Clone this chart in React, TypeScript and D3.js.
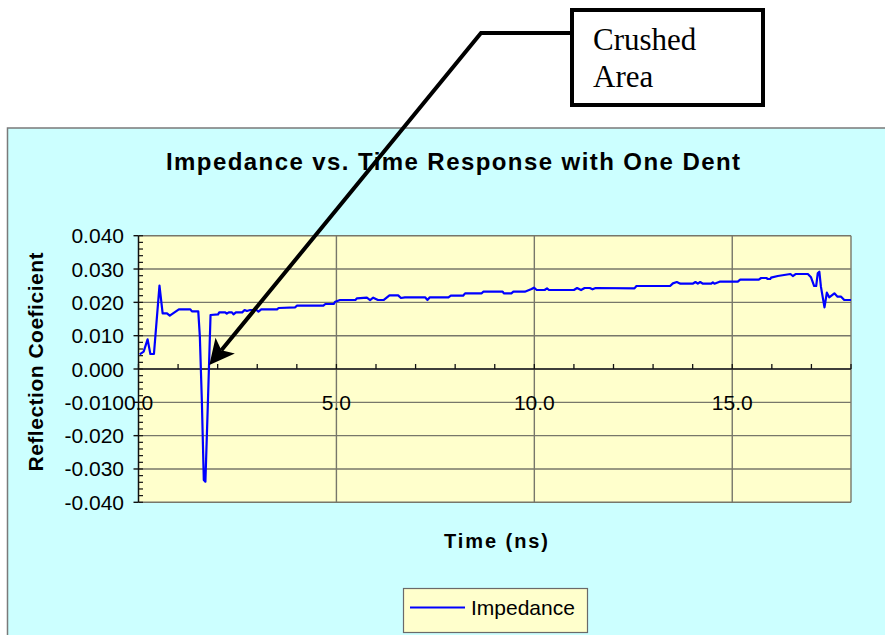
import React from 'react';
import * as d3 from 'd3';

const chartTitle = 'Impedance vs. Time Response with One Dent';
const xTitle = 'Time (ns)';
const yTitle = 'Reflection Coeficient';
const seriesName = 'Impedance';
const calloutLines = ['Crushed', 'Area'];

const xTickValues = [0, 5, 10, 15];
const xTickLabels = ['0.0', '5.0', '10.0', '15.0'];
const yTickValues = [0.04, 0.03, 0.02, 0.01, 0, -0.01, -0.02, -0.03, -0.04];
const yTickLabels = ['0.040', '0.030', '0.020', '0.010', '0.000', '-0.010', '-0.020', '-0.030', '-0.040'];

const times = [
  0.03, 0.13, 0.23, 0.30, 0.39, 0.53, 0.61, 0.72, 0.79, 1.02, 1.31, 1.35, 1.51, 1.55, 1.60, 1.65, 1.69, 1.75, 1.82,
  2.01, 2.04, 2.19, 2.23, 2.28, 2.36, 2.40, 2.46, 2.62, 2.68, 2.74, 2.82, 2.98, 3.03, 3.10, 3.50, 3.54, 3.96, 4.00,
  4.67, 4.72, 4.93, 4.97, 5.09, 5.48, 5.52, 5.77, 5.85, 5.93, 6.05, 6.19, 6.34, 6.56, 6.63, 6.73, 7.24, 7.30, 7.36,
  7.83, 7.89, 8.20, 8.25, 8.67, 8.71, 9.20, 9.23, 9.42, 9.47, 9.76, 9.93, 9.99, 10.06, 10.26, 10.32, 10.37, 11.00,
  11.08, 11.18, 11.27, 11.40, 11.47, 11.55, 12.53, 12.58, 13.43, 13.50, 13.60, 13.69, 14.00, 14.07, 14.13, 14.19,
  14.26, 14.47, 14.51, 14.55, 14.68, 15.14, 15.20, 15.67, 15.73, 15.86, 15.90, 15.96, 15.98, 16.15, 16.47, 16.53,
  16.60, 16.91, 16.99, 17.07, 17.12, 17.16, 17.20, 17.24, 17.33, 17.39, 17.45, 17.58, 17.66, 17.75, 17.83, 18.03,
];
const values = [
  0.0044, 0.0052, 0.0089, 0.0045, 0.0045, 0.0250, 0.0167, 0.0167, 0.0160, 0.0179, 0.0179, 0.0173, 0.0173, 0.0097,
  -0.0093, -0.0333, -0.0338, -0.0113, 0.0162,
  0.0164, 0.0170, 0.0170, 0.0166, 0.0170, 0.0170, 0.0164, 0.0170, 0.0170, 0.0177, 0.0174, 0.0177, 0.0177, 0.0172,
  0.0179, 0.0179, 0.0183, 0.0185, 0.0190,
  0.0190, 0.0195, 0.0195, 0.0202, 0.0207, 0.0207, 0.0212, 0.0214, 0.0207, 0.0214, 0.0207, 0.0207, 0.0221, 0.0221,
  0.0213, 0.0215, 0.0215, 0.0207, 0.0215,
  0.0215, 0.0220, 0.0220, 0.0227, 0.0227, 0.0232, 0.0232, 0.0227, 0.0227, 0.0232, 0.0232, 0.0240, 0.0244, 0.0237,
  0.0237, 0.0242, 0.0237, 0.0237,
  0.0243, 0.0237, 0.0243, 0.0243, 0.0239, 0.0243, 0.0242, 0.0249, 0.0249, 0.0257, 0.0261, 0.0256, 0.0256, 0.0261,
  0.0256, 0.0261,
  0.0256, 0.0256, 0.0260, 0.0256, 0.0262, 0.0262, 0.0268, 0.0268, 0.0273, 0.0273, 0.0270, 0.0270, 0.0274, 0.0279,
  0.0285, 0.0279,
  0.0285, 0.0285, 0.0275, 0.0249, 0.0249, 0.0287, 0.0292, 0.0247, 0.0185, 0.0229, 0.0215, 0.0227, 0.0217, 0.0217,
  0.0207, 0.0207,
];

// where the callout arrow points (data coordinates)
const arrowTarget = [1.79, 0.0012];

const SANS = '"Liberation Sans", Arial, sans-serif';
const SERIF = '"Liberation Serif", "Times New Roman", serif';

export default function App() {
  const W = 885;
  const H = 635;
  const plotL = 138.5, plotR = 851, plotT = 235.7, plotB = 502.3;
  const x = d3.scaleLinear().domain([0, 18]).range([plotL, plotR]);
  const y = d3.scaleLinear().domain([-0.04, 0.04]).range([plotB, plotT]);

  const pts = times.map((t, i) => [t, values[i]] as [number, number]);
  const line = d3.line<[number, number]>().x(d => x(d[0])).y(d => y(d[1]));

  const yMinor = d3.range(-20, 21).map(i => i * 0.002);
  const xMinor = d3.range(0, 19);
  const gridColor = '#77776a';

  // callout arrow geometry
  const tipX = x(arrowTarget[0]);
  const tipY = y(arrowTarget[1]);
  const elbowX = 481, elbowY = 33, startX = 571;
  const dx = elbowX - tipX, dy = elbowY - tipY;
  const len = Math.hypot(dx, dy);
  const ux = dx / len, uy = dy / len;
  const px = -uy, py = ux;
  const headL = 25, headW = 12.5, notch = 19;
  const c1 = [tipX + ux * headL + px * headW, tipY + uy * headL + py * headW];
  const c2 = [tipX + ux * headL - px * headW, tipY + uy * headL - py * headW];
  const nb = [tipX + ux * notch, tipY + uy * notch];

  return (
    <svg width={W} height={H} style={{ position: 'absolute', left: 0, top: 0, background: '#ffffff' }}>
      <defs>
        <clipPath id="plotClip">
          <rect x={plotL} y={plotT - 5} width={plotR - plotL} height={plotB - plotT + 10} />
        </clipPath>
      </defs>
      {/* chart area */}
      <rect x={7.5} y={128} width={W} height={H} fill="#ccffff" stroke="#7a7a7a" strokeWidth={1.5} />
      <text x={453} y={169.5} textAnchor="middle" fontFamily={SANS} fontWeight="bold" fontSize={24}
        textLength={574} lengthAdjust="spacing">{chartTitle}</text>

      {/* plot area */}
      <rect x={plotL} y={plotT} width={plotR - plotL} height={plotB - plotT} fill="#ffffcc" />
      {yTickValues.map(v => (
        <line key={'gy' + v} x1={plotL} x2={plotR} y1={y(v)} y2={y(v)} stroke={gridColor} strokeWidth={1.4} />
      ))}
      {xTickValues.filter(v => v > 0).map(v => (
        <line key={'gx' + v} x1={x(v)} x2={x(v)} y1={plotT} y2={plotB} stroke={gridColor} strokeWidth={1.4} />
      ))}
      <line x1={plotR} x2={plotR} y1={plotT} y2={plotB} stroke={gridColor} strokeWidth={1.4} />

      {/* y axis */}
      <line x1={plotL} x2={plotL} y1={plotT} y2={plotB} stroke="#111" strokeWidth={1.5} />
      {yMinor.map(v => (
        <line key={'ym' + v} x1={plotL} x2={plotL + 4.5} y1={y(v)} y2={y(v)} stroke="#111" strokeWidth={1.2} />
      ))}
      {yTickValues.map(v => (
        <line key={'yt' + v} x1={plotL - 5} x2={plotL} y1={y(v)} y2={y(v)} stroke="#111" strokeWidth={1.4} />
      ))}
      {/* x axis at zero */}
      <line x1={plotL} x2={plotR} y1={y(0)} y2={y(0)} stroke="#222" strokeWidth={1.5} />
      {xMinor.map(v => (
        <line key={'xm' + v} x1={x(v)} x2={x(v)} y1={y(0) - 5} y2={y(0)} stroke="#111" strokeWidth={1.3} />
      ))}

      {/* series */}
      <path d={line(pts) || ''} fill="none" stroke="#0000ff" strokeWidth={2.2} strokeLinejoin="round"
        clipPath="url(#plotClip)" />

      {/* tick labels */}
      {yTickValues.map((v, i) => (
        <text key={'yl' + v} x={124} y={y(v) + 7.5} textAnchor="end" fontFamily={SANS} fontSize={21}>{yTickLabels[i]}</text>
      ))}
      {xTickValues.map((v, i) => (
        <text key={'xl' + v} x={x(v)} y={y(0) + 40.5} textAnchor="middle" fontFamily={SANS} fontSize={21}>{xTickLabels[i]}</text>
      ))}

      {/* axis titles */}
      <text x={496} y={548} textAnchor="middle" fontFamily={SANS} fontWeight="bold" fontSize={20}
        textLength={104} lengthAdjust="spacing">{xTitle}</text>
      <text transform="translate(43,362) rotate(-90)" textAnchor="middle" fontFamily={SANS} fontWeight="bold"
        fontSize={21} textLength={219} lengthAdjust="spacing">{yTitle}</text>

      {/* legend */}
      <rect x={403.5} y={588.5} width={184} height={44} fill="#ffffcc" stroke="#6a6a6a" strokeWidth={1.2} />
      <line x1={410} x2={465} y1={607.5} y2={607.5} stroke="#0000ff" strokeWidth={2} />
      <text x={471} y={615} fontFamily={SANS} fontSize={21}>{seriesName}</text>

      {/* callout */}
      <polyline points={`${startX},${elbowY} ${elbowX},${elbowY} ${nb[0]},${nb[1]}`} fill="none" stroke="#000"
        strokeWidth={4} strokeLinejoin="miter" />
      <path d={`M${tipX},${tipY} L${c1[0]},${c1[1]} L${nb[0]},${nb[1]} L${c2[0]},${c2[1]} Z`} fill="#000" />
      <rect x={572} y={10} width={191} height={95} fill="#fff" stroke="#000" strokeWidth={4} />
      {calloutLines.map((s, i) => (
        <text key={s} x={593} y={50 + i * 37} fontFamily={SERIF} fontSize={31}>{s}</text>
      ))}
    </svg>
  );
}
